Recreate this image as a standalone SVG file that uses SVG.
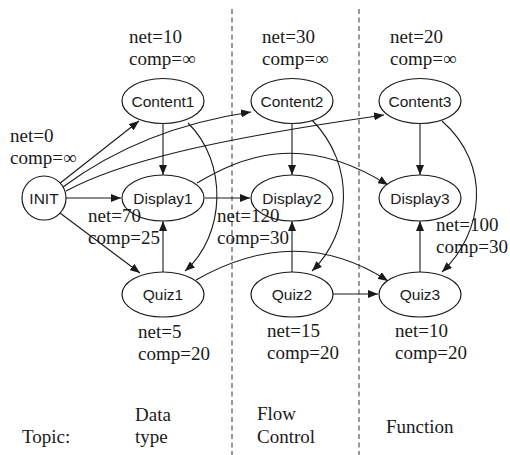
<svg xmlns="http://www.w3.org/2000/svg" width="510" height="455" viewBox="0 0 510 455">
  <style>
    .node { fill: #ffffff; stroke: #1a1a1a; stroke-width: 1.2; }
    .lbl { font-family: "Liberation Sans", Arial, sans-serif; font-size: 15.5px; fill: #1a1a1a; text-anchor: middle; }
    .ann { font-family: "Liberation Serif", "Times New Roman", serif; font-size: 19px; fill: #1a1a1a; }
    .edge { fill: none; stroke: #1a1a1a; stroke-width: 1.1; marker-end: url(#arr); }
    .sep { stroke: #555555; stroke-width: 1.2; stroke-dasharray: 5 3.5; }
  </style>
  <defs>
    <marker id="arr" viewBox="0 0 10 8" refX="10" refY="4" markerWidth="10" markerHeight="8" markerUnits="userSpaceOnUse" orient="auto">
      <path d="M0,0 L10,4 L0,8 Z" fill="#1a1a1a"/>
    </marker>
  </defs>

  <rect width="510" height="455" fill="#ffffff"/>

  <!-- topic separators -->
  <g id="separators">
    <line class="sep" x1="232" y1="9" x2="232" y2="455"/>
    <line class="sep" x1="359" y1="9" x2="359" y2="455"/>
  </g>

  <!-- connectors -->
  <g id="connectors">
    <path class="edge" d="M59,184 L139,121"/>
    <path class="edge" d="M63,187 C110,152 170,124 251,112"/>
    <path class="edge" d="M66,191 C120,162 210,140 384,115"/>
    <path class="edge" d="M66,198 L121,198"/>
    <path class="edge" d="M60,213 L140,273"/>
    <path class="edge" d="M163,124 L163,175"/>
    <path class="edge" d="M188,123 C228,162 226,235 185,271"/>
    <path class="edge" d="M205,198 L250,198"/>
    <path class="edge" d="M197,183 C240,158 300,130 388,185"/>
    <path class="edge" d="M163,272 L163,221"/>
    <path class="edge" d="M196,280 C240,255 310,230 388,281"/>
    <path class="edge" d="M292,124 L292,175"/>
    <path class="edge" d="M312,120 C356,165 352,232 312,271"/>
    <path class="edge" d="M292,272 L292,221"/>
    <path class="edge" d="M333,294 L378,294"/>
    <path class="edge" d="M420,124 L420,175"/>
    <path class="edge" d="M442,121 C492,165 484,232 442,272"/>
    <path class="edge" d="M420,272 L420,221"/>
  </g>

  <!-- nodes -->
  <g id="INIT">
    <circle class="node" cx="44" cy="198" r="22"/>
    <text class="lbl" x="44" y="203.5">INIT</text>
  </g>
  <g id="Content1">
    <ellipse class="node" cx="163" cy="101" rx="41" ry="22.5"/>
    <text class="lbl" x="163" y="106.5">Content1</text>
  </g>
  <g id="Display1">
    <ellipse class="node" cx="163" cy="198" rx="41" ry="23"/>
    <text class="lbl" x="163" y="203.5">Display1</text>
  </g>
  <g id="Quiz1">
    <ellipse class="node" cx="163" cy="294.5" rx="41" ry="22.5"/>
    <text class="lbl" x="163" y="300">Quiz1</text>
  </g>
  <g id="Content2">
    <ellipse class="node" cx="292" cy="101" rx="41" ry="22.5"/>
    <text class="lbl" x="292" y="106.5">Content2</text>
  </g>
  <g id="Display2">
    <ellipse class="node" cx="292" cy="198" rx="41" ry="23"/>
    <text class="lbl" x="292" y="203.5">Display2</text>
  </g>
  <g id="Quiz2">
    <ellipse class="node" cx="292" cy="294.5" rx="41" ry="22.5"/>
    <text class="lbl" x="292" y="300">Quiz2</text>
  </g>
  <g id="Content3">
    <ellipse class="node" cx="420" cy="101" rx="41" ry="22.5"/>
    <text class="lbl" x="420" y="106.5">Content3</text>
  </g>
  <g id="Display3">
    <ellipse class="node" cx="420" cy="198" rx="41" ry="23"/>
    <text class="lbl" x="420" y="203.5">Display3</text>
  </g>
  <g id="Quiz3">
    <ellipse class="node" cx="420" cy="294.5" rx="41" ry="22.5"/>
    <text class="lbl" x="420" y="300">Quiz3</text>
  </g>

  <!-- annotations -->
  <g id="annotations">
    <text class="ann" x="10" y="142">net=0</text>
    <text class="ann" x="10" y="164">comp=∞</text>
    <text class="ann" x="129" y="43">net=10</text>
    <text class="ann" x="129" y="65">comp=∞</text>
    <text class="ann" x="262" y="43">net=30</text>
    <text class="ann" x="262" y="65">comp=∞</text>
    <text class="ann" x="390" y="43">net=20</text>
    <text class="ann" x="390" y="65">comp=∞</text>
    <text class="ann" x="88" y="222">net=70</text>
    <text class="ann" x="88" y="244">comp=25</text>
    <text class="ann" x="217" y="222">net=120</text>
    <text class="ann" x="217" y="244">comp=30</text>
    <text class="ann" x="436" y="231">net=100</text>
    <text class="ann" x="436" y="253">comp=30</text>
    <text class="ann" x="138" y="338">net=5</text>
    <text class="ann" x="138" y="360">comp=20</text>
    <text class="ann" x="267" y="337">net=15</text>
    <text class="ann" x="267" y="359">comp=20</text>
    <text class="ann" x="395" y="337">net=10</text>
    <text class="ann" x="395" y="359">comp=20</text>
    <text class="ann" x="22" y="443">Topic:</text>
    <text class="ann" x="135" y="421">Data</text>
    <text class="ann" x="135" y="443">type</text>
    <text class="ann" x="257" y="420">Flow</text>
    <text class="ann" x="257" y="443">Control</text>
    <text class="ann" x="386" y="433">Function</text>
  </g>
</svg>
